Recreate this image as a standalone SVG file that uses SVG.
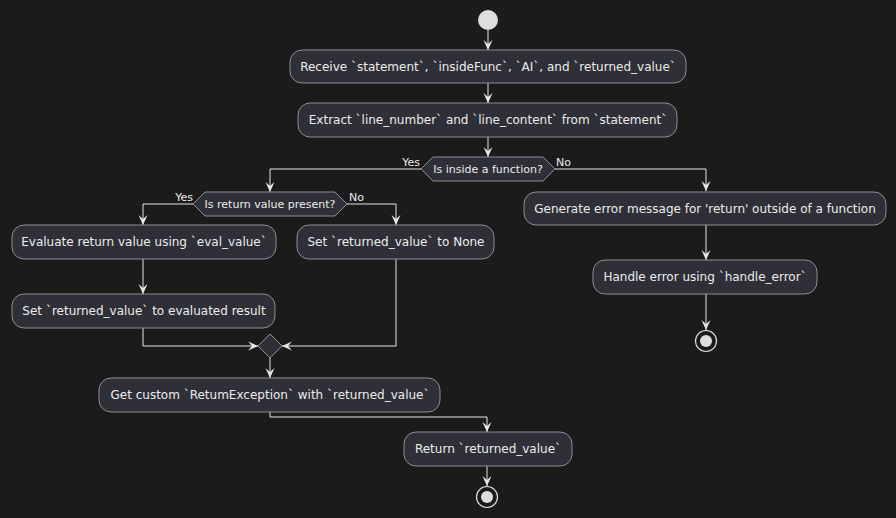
<svg xmlns="http://www.w3.org/2000/svg" width="896" height="518" viewBox="0 0 896 518">
  <style>
    .bg { fill: #1b1b1c; }
    .act rect { fill: #2f2f37; stroke: #8e8e94; stroke-width: 1; }
    .act text { fill: #ececec; font-family: "DejaVu Sans", "Liberation Sans", sans-serif; font-size: 12px; text-anchor: middle; }
    .dec polygon { fill: #2f2f37; stroke: #8e8e94; stroke-width: 1; }
    .dec text { fill: #ececec; font-family: "DejaVu Sans", "Liberation Sans", sans-serif; font-size: 11px; text-anchor: middle; }
    .lbl { fill: #ececec; font-family: "DejaVu Sans", "Liberation Sans", sans-serif; font-size: 11px; }
    .edge { fill: none; stroke: #e6e6e6; stroke-width: 1; marker-end: url(#arrow); }
    .start { fill: #dedede; }
    .stop-outer { fill: none; stroke: #dedede; stroke-width: 1.2; }
    .stop-inner { fill: #dedede; }
  </style>
  <defs>
    <marker id="arrow" markerUnits="userSpaceOnUse" markerWidth="12" markerHeight="12" refX="10" refY="5" orient="auto">
      <path d="M0,0.5 L10,5 L0,9.5 L4,5 Z" fill="#e6e6e6"/>
    </marker>
  </defs>

  <rect class="bg" x="0" y="0" width="896" height="518"/>

  <!-- connectors -->
  <g id="edges">
    <path class="edge" d="M488,30 V50"/>
    <path class="edge" d="M488,83 V103"/>
    <path class="edge" d="M488,137 V157"/>
    <path class="edge" d="M421,169 H270 V192"/>
    <path class="edge" d="M555,169 H706 V191"/>
    <path class="edge" d="M193,204 H143 V225"/>
    <path class="edge" d="M347,204 H396 V225"/>
    <path class="edge" d="M143,259 V294"/>
    <path class="edge" d="M143,328 V346 H258"/>
    <path class="edge" d="M396,259 V346 H282"/>
    <path class="edge" d="M270,358 V378"/>
    <path class="edge" d="M270,412 V417 H487 V432"/>
    <path class="edge" d="M487,466 V486"/>
    <path class="edge" d="M706,225 V260"/>
    <path class="edge" d="M706,294 V330"/>
  </g>

  <text class="lbl" x="420" y="166" text-anchor="end">Yes</text>
  <text class="lbl" x="556" y="166">No</text>
  <text class="lbl" x="193" y="201" text-anchor="end">Yes</text>
  <text class="lbl" x="349" y="201">No</text>

  <g id="start"><circle class="start" cx="488" cy="20" r="10"/></g>

  <g id="receive" class="act">
    <rect x="290" y="50" width="396" height="33" rx="12"/>
    <text x="488" y="71">Receive `statement`, `insideFunc`, `AI`, and `returned_value`</text>
  </g>
  <g id="extract" class="act">
    <rect x="298" y="103" width="379" height="34" rx="12"/>
    <text x="488" y="124">Extract `line_number` and `line_content` from `statement`</text>
  </g>
  <g id="inside-func" class="dec">
    <polygon points="421,169 433,157 543,157 555,169 543,181 433,181"/>
    <text x="488" y="173">Is inside a function?</text>
  </g>
  <g id="has-value" class="dec">
    <polygon points="193,204 205,192 335,192 347,204 335,216 205,216"/>
    <text x="270" y="208">Is return value present?</text>
  </g>
  <g id="eval" class="act">
    <rect x="12" y="225" width="264" height="34" rx="12"/>
    <text x="144" y="246">Evaluate return value using `eval_value`</text>
  </g>
  <g id="set-result" class="act">
    <rect x="12" y="294" width="263" height="34" rx="12"/>
    <text x="144" y="315">Set `returned_value` to evaluated result</text>
  </g>
  <g id="set-none" class="act">
    <rect x="297" y="225" width="197" height="34" rx="12"/>
    <text x="396" y="246">Set `returned_value` to None</text>
  </g>
  <g id="merge" class="dec">
    <polygon points="270,334 282,346 270,358 258,346"/>
  </g>
  <g id="raise" class="act">
    <rect x="99" y="378" width="341" height="34" rx="12"/>
    <text x="270" y="399">Get custom `RetumException` with `returned_value`</text>
  </g>
  <g id="return" class="act">
    <rect x="404" y="432" width="168" height="34" rx="12"/>
    <text x="488" y="453">Return `returned_value`</text>
  </g>
  <g id="stop-main">
    <circle class="stop-outer" cx="487" cy="497" r="10.5"/>
    <circle class="stop-inner" cx="487" cy="497" r="6"/>
  </g>
  <g id="gen-error" class="act">
    <rect x="524" y="192" width="362" height="33" rx="12"/>
    <text x="705" y="213">Generate error message for 'return' outside of a function</text>
  </g>
  <g id="handle-error" class="act">
    <rect x="593" y="260" width="224" height="34" rx="12"/>
    <text x="705" y="281">Handle error using `handle_error`</text>
  </g>
  <g id="stop-error">
    <circle class="stop-outer" cx="706" cy="341" r="10.5"/>
    <circle class="stop-inner" cx="706" cy="341" r="6"/>
  </g>
</svg>
